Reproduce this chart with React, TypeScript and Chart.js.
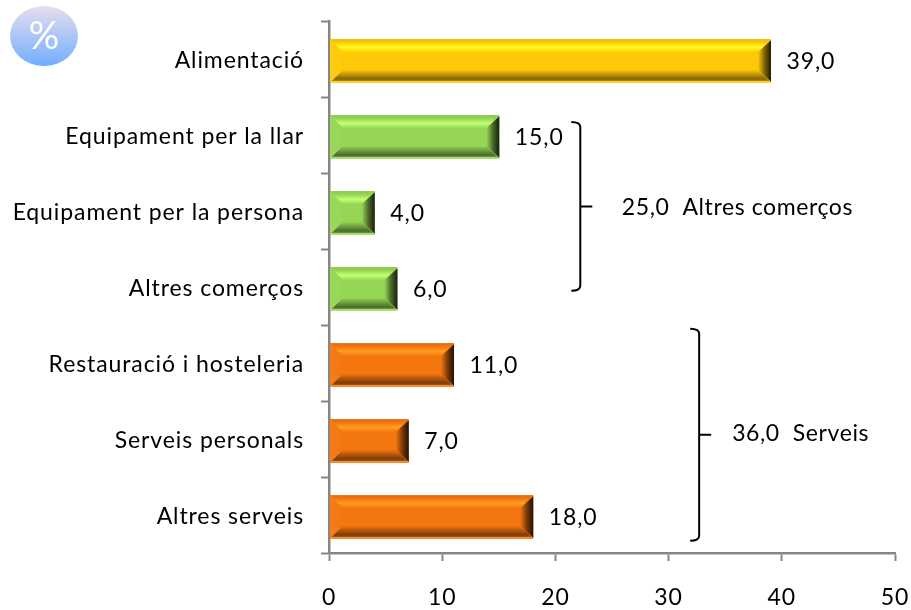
import React, { useEffect, useRef } from "react";
import { Chart, registerables } from "chart.js";

Chart.register(...registerables);

const categories = [
  "Alimentació",
  "Equipament per la llar",
  "Equipament per la persona",
  "Altres comerços",
  "Restauració i hosteleria",
  "Serveis personals",
  "Altres serveis",
];
const values = [39, 15, 4, 6, 11, 7, 18];
const palette = ["#ffc90a", "#96d655", "#96d655", "#96d655", "#f4760f", "#f4760f", "#f4760f"];
const xTicks = [0, 10, 20, 30, 40, 50];
const groups = [
  { label: "25,0  Altres comerços", from: 0.83, to: 3.05, value: 22.2, gap: 41.5, dy: 1 },
  { label: "36,0  Serveis", from: 3.55, to: 6.34, value: 32.7, gap: 33, dy: -1 },
];

const FONT = "Lato, Carlito, sans-serif";
const SPACING = "0.9px";

function rgb(hex: string) {
  const n = parseInt(hex.slice(1), 16);
  return [(n >> 16) & 255, (n >> 8) & 255, n & 255];
}
function shade(hex: string, f: number) {
  const ch = rgb(hex).map((c) => Math.round(f >= 0 ? c + (255 - c) * f : c * (1 + f)));
  return `rgb(${ch[0]},${ch[1]},${ch[2]})`;
}
function glow(hex: string) {
  const ch = rgb(hex).map((c) => Math.min(255, Math.round(c * 1.22 + 12)));
  return `rgb(${ch[0]},${ch[1]},${ch[2]})`;
}

const bevelPlugin = {
  id: "bevel",
  beforeDraw(chart: any) {
    chart.ctx.letterSpacing = SPACING;
  },
  beforeDatasetsDraw(chart: any) {
    chart.ctx.save();
    chart.ctx.translate(0.5, 2);
  },
  afterDatasetsDraw(chart: any) {
    const { ctx } = chart;
    const meta = chart.getDatasetMeta(0);
    meta.data.forEach((el: any, i: number) => {
      const col = palette[i];
      const l = el.base;
      const r = el.x;
      const t = el.y - el.height / 2;
      const b = el.y + el.height / 2;
      const d = 13;
      const poly = (pts: number[][], fill: any) => {
        ctx.beginPath();
        pts.forEach((p, k) => (k ? ctx.lineTo(p[0], p[1]) : ctx.moveTo(p[0], p[1])));
        ctx.closePath();
        ctx.fillStyle = fill;
        ctx.fill();
      };
      const topG = ctx.createLinearGradient(0, t, 0, t + d);
      topG.addColorStop(0, shade(col, -0.08));
      topG.addColorStop(0.25, col);
      topG.addColorStop(0.62, glow(col));
      topG.addColorStop(1, col);
      poly([[l, t], [r, t], [r - d, t + d], [l + d, t + d]], topG);
      const botG = ctx.createLinearGradient(0, b - d, 0, b);
      botG.addColorStop(0, col);
      botG.addColorStop(0.72, shade(col, -0.5));
      botG.addColorStop(0.86, shade(col, -0.3));
      botG.addColorStop(0.88, shade(col, 0.15));
      botG.addColorStop(1, shade(col, 0.15));
      poly([[l, b], [r, b], [r - d, b - d], [l + d, b - d]], botG);
      const leftG = ctx.createLinearGradient(l, 0, l + d, 0);
      leftG.addColorStop(0, shade(col, 0.05));
      leftG.addColorStop(1, col);
      poly([[l, t + 1], [l + d, t + d], [l + d, b - d], [l, b - 1]], leftG);
      const rightG = ctx.createLinearGradient(r - d, 0, r, 0);
      rightG.addColorStop(0, col);
      rightG.addColorStop(0.5, shade(col, -0.5));
      rightG.addColorStop(1, shade(col, -0.86));
      poly([[r, t + 1], [r - d, t + d], [r - d, b - d], [r, b - 1]], rightG);
    });
    ctx.restore();
  },
};

const labelsPlugin = {
  id: "valueLabels",
  afterDraw(chart: any) {
    const { ctx, scales } = chart;
    const meta = chart.getDatasetMeta(0);
    ctx.save();
    ctx.font = `23px ${FONT}`;
    ctx.fillStyle = "#000";
    ctx.textBaseline = "middle";
    ctx.textAlign = "left";
    meta.data.forEach((el: any, i: number) => {
      ctx.fillText(values[i].toFixed(1).replace(".", ","), el.x + 16, el.y + 3);
    });
    ctx.letterSpacing = "0.6px";
    groups.forEach((g) => {
      const bx = scales.x.getPixelForValue(g.value);
      const top = scales.y.getPixelForValue(g.from);
      const bot = scales.y.getPixelForValue(g.to);
      const mid = (top + bot) / 2;
      ctx.strokeStyle = "#000";
      ctx.lineWidth = 2;
      ctx.beginPath();
      ctx.moveTo(bx - 9, top);
      ctx.quadraticCurveTo(bx, top, bx, top + 5);
      ctx.lineTo(bx, bot - 5);
      ctx.quadraticCurveTo(bx, bot, bx - 9, bot);
      ctx.moveTo(bx, mid);
      ctx.lineTo(bx + 12, mid);
      ctx.stroke();
      ctx.fillText(g.label, bx + g.gap, mid + g.dy);
    });
    const grad = ctx.createLinearGradient(0, 6, 0, 66);
    grad.addColorStop(0, "#e6deee");
    grad.addColorStop(1, "#70aeff");
    ctx.beginPath();
    ctx.ellipse(44, 36, 34, 30, 0, 0, Math.PI * 2);
    ctx.fillStyle = grad;
    ctx.fill();
    ctx.letterSpacing = "0px";
    ctx.fillStyle = "#fff";
    ctx.font = `38px ${FONT}`;
    ctx.textAlign = "center";
    ctx.fillText("%", 44, 37);
    ctx.restore();
  },
};

export default function App() {
  const ref = useRef<HTMLCanvasElement>(null);
  useEffect(() => {
    document.body.style.margin = "0";
    const chart = new Chart(ref.current!, {
      type: "bar",
      data: {
        labels: categories,
        datasets: [
          {
            data: values,
            backgroundColor: palette,
            barPercentage: 0.57,
            categoryPercentage: 1,
          },
        ],
      },
      plugins: [bevelPlugin, labelsPlugin],
      options: {
        indexAxis: "y",
        animation: false,
        responsive: false,
        layout: { padding: { left: 0, right: 16, top: 21, bottom: 0 } },
        plugins: { legend: { display: false }, tooltip: { enabled: false } },
        scales: {
          x: {
            min: 0,
            max: 50,
            afterFit(s: any) {
              s.height = 57;
              s.paddingLeft = 0;
              s.paddingRight = 0;
            },
            border: { color: "#868686", width: 2.5 },
            grid: { drawOnChartArea: false, tickLength: 8, tickColor: "#868686", tickWidth: 2 },
            ticks: {
              stepSize: 10,
              autoSkip: false,
              maxRotation: 0,
              padding: 23,
              color: "#000",
              font: { family: FONT, size: 23 },
              callback: (v: any) => (xTicks.includes(Number(v)) ? String(v) : ""),
            },
          },
          y: {
            afterFit(s: any) {
              s.width = 329;
              s.paddingTop = 0;
              s.paddingBottom = 0;
            },
            border: { color: "#868686", width: 2.5 },
            grid: { offset: true, drawOnChartArea: false, tickLength: 8, tickColor: "#868686", tickWidth: 2 },
            ticks: {
              padding: 17,
              labelOffset: 2,
              color: "#000",
              font: { family: FONT, size: 23 },
            },
          },
        },
      },
    });
    return () => chart.destroy();
  }, []);
  return <canvas ref={ref} width={911} height={610} style={{ display: "block" }} />;
}
